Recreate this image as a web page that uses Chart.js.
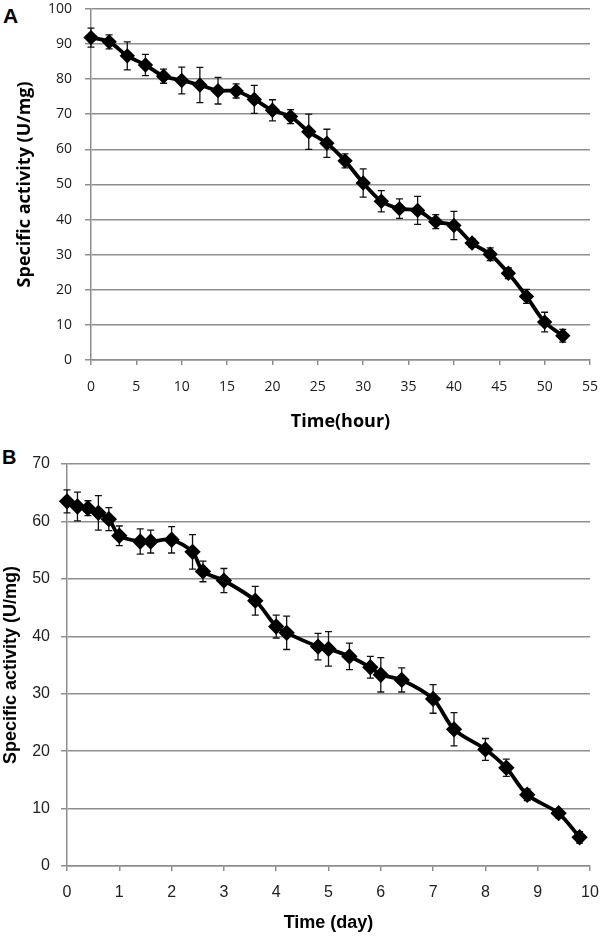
<!DOCTYPE html>
<html>
<head>
<meta charset="utf-8">
<script src="https://cdn.jsdelivr.net/npm/chart.js@4/dist/chart.umd.min.js"></script>
<style>
    body { margin: 0; background: #fff; width: 600px; height: 936px; position: relative; overflow: hidden; }
    canvas { position: absolute; left: 0; }
    #chartA { top: 0; }
    #chartB { top: 435px; }
    .panel-label { position: absolute; font-family: "Liberation Sans", Arial, sans-serif; font-weight: bold; color: #000; line-height: 1; }
    #labelA { left: 3px; top: 5px; font-size: 21px; }
    #labelB { left: 2px; top: 447px; font-size: 20px; }
</style>
</head>
<body>
<div id="labelA" class="panel-label">A</div>
<div id="labelB" class="panel-label">B</div>
<canvas id="chartA" width="600" height="435"></canvas>
<canvas id="chartB" width="600" height="501"></canvas>
<script>
// Panel A: activity over hours
const hoursA = [0, 2, 4, 6, 8, 10, 12, 14, 16, 18, 20, 22, 24, 26, 28, 30, 32, 34, 36, 38, 40, 42, 44, 46, 48, 50, 52];
const activityA = [91.8, 90.6, 86.6, 84.0, 80.8, 79.6, 78.3, 76.7, 76.6, 74.2, 71.1, 69.3, 65.0, 61.7, 56.7, 50.4, 45.2, 43.1, 42.6, 39.4, 38.3, 33.3, 30.1, 24.7, 18.1, 10.8, 6.9];
const errorA = [2.7, 2.0, 4.0, 3.0, 2.0, 3.8, 5.0, 3.8, 2.0, 4.0, 3.0, 2.0, 5.0, 4.0, 2.0, 4.0, 3.0, 2.8, 4.0, 2.0, 4.0, 1.2, 1.8, 1.5, 2.0, 2.8, 1.8];

// Panel B: activity over days
const daysB = [0, 0.2, 0.4, 0.6, 0.8, 1.0, 1.4, 1.6, 2.0, 2.4, 2.6, 3.0, 3.6, 4.0, 4.2, 4.8, 5.0, 5.4, 5.8, 6.0, 6.4, 7.0, 7.4, 8.0, 8.4, 8.8, 9.4, 9.8];
const activityB = [63.5, 62.6, 62.3, 61.5, 60.4, 57.5, 56.5, 56.5, 56.8, 54.7, 51.3, 49.7, 46.2, 41.7, 40.6, 38.2, 37.8, 36.5, 34.6, 33.3, 32.4, 29.1, 23.8, 20.3, 17.1, 12.4, 9.2, 5.0];
const errorB = [2.0, 2.5, 1.3, 3.0, 2.0, 1.7, 2.2, 2.0, 2.3, 3.0, 1.8, 2.1, 2.5, 2.0, 2.9, 2.3, 3.0, 2.3, 1.9, 3.0, 2.1, 2.5, 2.9, 1.9, 1.5, 1.0, 0.8, 1.0];

const gridColor = '#8e8e8e';

// Draws vertical error bars with caps from dataset.errors
const errorBarPlugin = {
    id: 'errorBars',
    beforeDatasetsDraw(chart) {
        const ctx = chart.ctx;
        const xScale = chart.scales.x;
        const yScale = chart.scales.y;
        chart.data.datasets.forEach(ds => {
            if (!ds.errors) return;
            ctx.save();
            ctx.strokeStyle = '#111';
            ctx.lineWidth = 1.3;
            ds.data.forEach((pt, i) => {
                const x = xScale.getPixelForValue(pt.x);
                const yTop = yScale.getPixelForValue(pt.y + ds.errors[i]);
                const yBot = yScale.getPixelForValue(pt.y - ds.errors[i]);
                const cap = 3.5;
                ctx.beginPath();
                ctx.moveTo(x, yTop);
                ctx.lineTo(x, yBot);
                ctx.moveTo(x - cap, yTop);
                ctx.lineTo(x + cap, yTop);
                ctx.moveTo(x - cap, yBot);
                ctx.lineTo(x + cap, yBot);
                ctx.stroke();
            });
            ctx.restore();
        });
    }
};

function toPoints(xs, ys) {
    return xs.map((x, i) => ({ x: x, y: ys[i] }));
}

function makeChart(id, cfg) {
    const ctx = document.getElementById(id).getContext('2d');
    return new Chart(ctx, {
        type: 'line',
        data: {
            datasets: [{
                data: toPoints(cfg.xs, cfg.ys),
                errors: cfg.errors,
                borderColor: '#000',
                backgroundColor: '#000',
                borderWidth: 3.8,
                tension: 0.3,
                pointStyle: 'rectRot',
                pointRadius: cfg.pointRadius,
                clip: false
            }]
        },
        options: {
            responsive: false,
            devicePixelRatio: 1,
            animation: false,
            layout: { padding: cfg.padding },
            plugins: {
                legend: { display: false },
                tooltip: { enabled: false }
            },
            scales: {
                x: {
                    type: 'linear',
                    min: 0,
                    max: cfg.xMax,
                    // fixed height, no extra side room for end labels
                    afterFit: scale => {
                        scale.height = cfg.xBoxHeight;
                        scale.paddingLeft = 0;
                        scale.paddingRight = 0;
                    },
                    grid: { drawOnChartArea: false, color: gridColor, tickLength: 5, lineWidth: 1.5 },
                    border: { color: gridColor, width: 1.5 },
                    ticks: {
                        stepSize: cfg.xStep,
                        padding: cfg.xTickPad,
                        color: cfg.tickColor,
                        font: cfg.tickFont,
                        maxRotation: 0
                    },
                    title: {
                        display: true,
                        text: cfg.xTitle,
                        color: '#000',
                        font: cfg.titleFont,
                        padding: { top: 0, bottom: cfg.xTitlePad }
                    }
                },
                y: {
                    min: 0,
                    max: cfg.yMax,
                    // fixed width, and no extra room for the top label
                    afterFit: scale => {
                        scale.width = cfg.yBoxWidth;
                        scale.paddingTop = 0;
                        scale.paddingBottom = 0;
                    },
                    grid: { color: gridColor, tickLength: 6, lineWidth: 1.5 },
                    border: { color: gridColor, width: 1.5 },
                    ticks: {
                        stepSize: 10,
                        padding: cfg.yTickPad,
                        color: cfg.tickColor,
                        font: cfg.tickFont
                    },
                    title: {
                        display: true,
                        text: 'Specific activity (U/mg)',
                        color: '#000',
                        font: cfg.titleFont,
                        padding: { top: cfg.yTitlePad, bottom: 0 }
                    }
                }
            }
        },
        plugins: [errorBarPlugin]
    });
}

// Panel A
makeChart('chartA', {
    xs: hoursA, ys: activityA, errors: errorA,
    xMax: 55, xStep: 5, yMax: 100,
    xTitle: 'Time(hour)',
    pointRadius: 5,
    padding: { top: 5, right: 10, bottom: 0, left: 0 },
    xBoxHeight: 75, yBoxWidth: 91,
    xTickPad: 14, yTickPad: 13,
    xTitlePad: 2, yTitlePad: 14,
    tickColor: '#1a1a1a',
    tickFont: { family: '"Open Sans", sans-serif', size: 14 },
    titleFont: { family: '"Open Sans", "Liberation Sans", sans-serif', size: 18, weight: 'bold' }
});

// Panel B
makeChart('chartB', {
    xs: daysB, ys: activityB, errors: errorB,
    xMax: 10, xStep: 1, yMax: 70,
    xTitle: 'Time (day)',
    pointRadius: 5.5,
    padding: { top: 29, right: 10, bottom: 0, left: 0 },
    xBoxHeight: 70, yBoxWidth: 67,
    xTickPad: 12, yTickPad: 11,
    xTitlePad: 2, yTitlePad: 0,
    tickColor: '#222',
    tickFont: { family: '"Liberation Sans", Arial, sans-serif', size: 16 },
    titleFont: { family: '"Liberation Sans", Arial, sans-serif', size: 18, weight: 'bold' }
});
</script>
</body>
</html>
